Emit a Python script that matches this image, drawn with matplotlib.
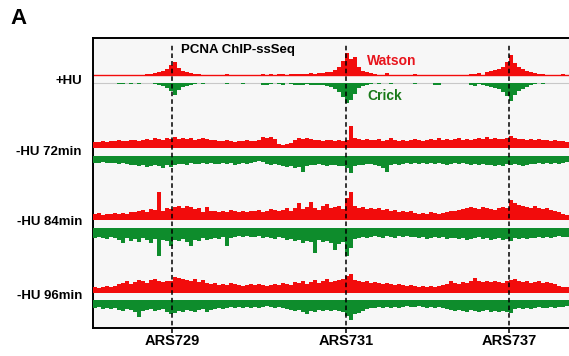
import numpy as np
import matplotlib
matplotlib.use("Agg")
import matplotlib.pyplot as plt

plt.rcParams['font.family'] = ['Liberation Sans', 'DejaVu Sans']

# genome bins (4 px each across the browser window)
nbins = 120
ars_pos = [19.75, 63.25, 104.0]
ars_names = ["ARS729", "ARS731", "ARS737"]
track_names = ["+HU", "-HU 72min", "-HU 84min", "-HU 96min"]

# +HU, sparse signal with peaks at the origins
hu_w = np.zeros(nbins)
hu_w_idx = [12, 13, 14, 15, 16, 17, 18, 19, 20, 21, 22, 23, 24, 25, 26, 33,
            42, 44, 46, 47, 48, 49, 50, 51, 52, 53, 54, 55, 56, 57, 58, 59, 60, 61, 62, 63, 64, 65, 66, 67, 68, 69, 70, 71, 73,
            80, 94, 95, 96, 97, 98, 99, 100, 101, 102, 103, 104, 105, 106, 107, 108, 109, 110, 111, 112, 113, 117]
hu_w_val = [0.5, 1, 1, 2, 3, 4, 6, 10, 13, 7, 4, 3, 2, 1.5, 1, 1,
            1, 1, 1, 1, 0.5, 1, 1, 1.5, 1, 1.5, 2, 1.5, 2, 2.5, 3, 3, 5, 8, 14, 22, 16, 18, 8, 4, 3, 2, 1, 0.5, 2,
            1, 1.5, 1, 2, 0.5, 3, 4, 5, 6, 8, 13, 20, 12, 8, 6, 4, 3, 2, 1.5, 1, 0.5, 1]
hu_w[hu_w_idx] = hu_w_val

hu_c = np.zeros(nbins)
hu_c_idx = [6, 7, 9, 11, 15, 16, 17, 18, 19, 20, 21, 22, 23, 24, 25, 27, 33, 37,
            42, 43, 44, 46, 47, 49, 50, 51, 52, 53, 54, 55, 56, 57, 58, 59, 60, 61, 62, 63, 64, 65, 66, 67, 68, 69, 71, 74,
            80, 85, 86, 94, 95, 96, 97, 98, 99, 100, 101, 102, 103, 104, 105, 106, 107, 108, 109, 110, 112]
hu_c_val = [1, 1, 1, 1, 1, 2, 3, 5, 8, 12, 7, 4, 3, 2, 1, 0.5, 1, 1,
            1.5, 1.5, 1, 1, 1.5, 1, 1.5, 2, 1.5, 1, 2, 1.5, 2, 2, 3, 4, 6, 9, 14, 20, 17, 11, 5, 3, 1.5, 1, 1, 0.5,
            1, 1.5, 1.5, 2, 2.5, 1, 2, 3, 4, 5, 6, 9, 13, 18, 12, 8, 6, 4, 2, 1, 1]
hu_c[hu_c_idx] = hu_c_val

w72 = [6, 6, 7, 6, 7, 7, 8, 7, 7, 8, 8, 7, 8, 9, 8, 10, 9, 8, 10, 9,
       11, 9, 10, 9, 10, 8, 9, 10, 9, 8, 8, 7, 7, 8, 7, 6, 7, 7, 8, 7,
       7, 8, 11, 10, 11, 9, 4, 3, 4, 5, 8, 10, 9, 10, 9, 8, 8, 7, 8, 8,
       7, 8, 7, 8, 22, 10, 9, 8, 9, 8, 8, 9, 7, 8, 10, 8, 7, 8, 7, 8,
       9, 8, 7, 8, 9, 8, 10, 8, 9, 8, 9, 10, 8, 9, 8, 9, 10, 9, 11, 9,
       10, 9, 9, 10, 12, 10, 9, 9, 8, 9, 8, 9, 8, 8, 7, 8, 7, 7, 6, 6]
c72 = [7, 7, 6, 7, 7, 7, 8, 7, 8, 9, 9, 10, 9, 11, 10, 9, 10, 12, 9, 11,
       9, 8, 8, 9, 7, 8, 8, 7, 8, 7, 8, 8, 7, 8, 7, 9, 8, 7, 8, 7,
       6, 5, 6, 8, 9, 8, 9, 10, 11, 10, 12, 11, 16, 10, 9, 9, 8, 9, 10, 9,
       9, 10, 10, 12, 17, 10, 9, 9, 8, 8, 9, 10, 12, 16, 9, 8, 9, 8, 7, 8,
       7, 8, 7, 8, 7, 8, 7, 8, 9, 8, 7, 8, 7, 8, 9, 8, 9, 8, 9, 9,
       10, 9, 10, 8, 9, 8, 9, 10, 9, 8, 8, 7, 8, 7, 8, 7, 8, 7, 6, 6]
w84 = [6, 7, 5, 6, 6, 7, 6, 7, 6, 8, 8, 9, 10, 8, 11, 10, 28, 9, 12, 11,
       13, 14, 12, 14, 13, 11, 12, 8, 13, 9, 9, 8, 9, 8, 10, 9, 8, 9, 8, 9,
       9, 10, 8, 9, 11, 10, 9, 10, 12, 9, 12, 17, 11, 13, 18, 12, 10, 14, 16, 12,
       13, 14, 11, 22, 28, 14, 12, 13, 11, 12, 11, 12, 10, 11, 9, 10, 8, 9, 8, 9,
       7, 6, 7, 6, 8, 7, 6, 7, 8, 9, 9, 10, 11, 12, 13, 12, 11, 13, 12, 11,
       10, 12, 13, 12, 20, 17, 15, 14, 13, 12, 14, 12, 11, 12, 10, 9, 8, 6, 5, 5]
c84 = [10, 9, 10, 11, 9, 10, 12, 15, 10, 13, 11, 14, 10, 12, 15, 11, 28, 12, 13, 18,
       12, 13, 11, 14, 18, 12, 13, 10, 12, 11, 10, 11, 9, 18, 10, 9, 8, 9, 8, 9,
       9, 8, 10, 9, 10, 11, 9, 10, 12, 11, 13, 12, 15, 13, 14, 25, 12, 14, 13, 15,
       22, 16, 14, 28, 20, 11, 10, 9, 10, 9, 8, 9, 10, 8, 9, 10, 8, 9, 8, 9,
       9, 10, 9, 11, 10, 9, 10, 9, 11, 10, 10, 11, 10, 12, 11, 10, 9, 11, 10, 12,
       11, 10, 12, 11, 13, 10, 11, 10, 11, 10, 10, 9, 10, 9, 10, 9, 8, 9, 9, 8]
w96 = [6, 5, 6, 7, 6, 7, 9, 10, 12, 9, 11, 13, 12, 10, 13, 14, 12, 11, 12, 12,
       16, 15, 14, 13, 12, 14, 11, 13, 10, 9, 10, 8, 9, 8, 10, 9, 8, 7, 8, 9,
       8, 9, 8, 7, 8, 9, 8, 10, 9, 8, 11, 10, 12, 9, 11, 13, 10, 12, 14, 11,
       12, 13, 14, 17, 19, 13, 12, 11, 12, 10, 11, 10, 9, 10, 9, 8, 9, 8, 7, 8,
       7, 6, 7, 6, 7, 6, 7, 8, 9, 12, 10, 9, 11, 10, 12, 15, 12, 11, 12, 11,
       12, 11, 10, 12, 13, 14, 12, 11, 12, 10, 11, 12, 10, 11, 10, 9, 7, 6, 6, 5]
c96 = [8, 7, 9, 8, 9, 8, 10, 11, 9, 10, 12, 17, 11, 10, 9, 11, 10, 9, 12, 14,
       13, 11, 12, 10, 11, 12, 10, 9, 12, 10, 9, 8, 9, 8, 7, 8, 7, 8, 7, 8,
       7, 8, 7, 6, 7, 8, 7, 8, 9, 10, 11, 10, 12, 14, 11, 12, 10, 11, 10, 11,
       10, 11, 12, 16, 20, 14, 13, 11, 9, 8, 8, 7, 8, 7, 8, 7, 8, 7, 6, 7,
       7, 6, 7, 8, 7, 8, 7, 8, 9, 10, 11, 10, 11, 12, 10, 11, 12, 11, 10, 12,
       11, 12, 11, 12, 13, 9, 8, 9, 8, 9, 8, 7, 8, 8, 7, 8, 7, 7, 6, 6]

watson = [hu_w, np.array(w72), np.array(w84), np.array(w96)]
crick = [hu_c, np.array(c72), np.array(c84), np.array(c96)]

# layout (y in pixel-like units from the bottom of the figure)
W, H = 569, 356
w_base = [H - 75, H - 148, H - 220, H - 293]
c_base = [H - 83, H - 156, H - 228, H - 300]
label_y = [H - 81, H - 152, H - 222, H - 296]
red = '#f20c0c'
green = '#0e8c2c'

fig = plt.figure(figsize=(W / 100, H / 100), dpi=100)
box_l, box_r, box_t, box_b = 93, 573, 38, 328
ax = fig.add_axes([box_l / W, 1 - box_b / H, (box_r - box_l) / W, (box_b - box_t) / H])
ax.set_facecolor('#f7f7f7')
ax.set_xlim(0, nbins)
ax.set_ylim(H - box_b, H - box_t)
ax.set_xticks([])
ax.set_yticks([])
for s in ax.spines.values():
    s.set_linewidth(1.4)
    s.set_color('black')

edges = np.arange(nbins + 1)
for i in range(4):
    wb, cb = w_base[i], c_base[i]
    if i == 0:
        ax.axhline(wb, color=red, lw=1.0, zorder=2)
        ax.axhline(cb, color='#c8c8c8', lw=0.8, zorder=1)
    ax.stairs(wb + watson[i], edges, baseline=wb, fill=True, color=red, lw=0, zorder=3)
    ax.stairs(cb - crick[i], edges, baseline=cb, fill=True, color=green, lw=0, zorder=3)
    fig.text(82 / W, label_y[i] / H, track_names[i], ha='right', va='center',
             fontsize=9.5, fontweight='bold')

# origin markers
for xp, nm in zip(ars_pos, ars_names):
    ax.plot([xp, xp], [H - 333, H - 43], ls=(0, (3, 2)), color='black', lw=1.1,
            clip_on=False, zorder=5)
    ax.text(xp, H - 341, nm, ha='center', va='center', fontsize=10.5,
            fontweight='bold')

ax.text(36.25, H - 50, "PCNA ChIP-ssSeq", ha='center', va='center', fontsize=9.5,
        fontweight='bold')
ax.text(74.75, H - 61, "Watson", ha='center', va='center', fontsize=10,
        fontweight='bold', color='#e8141c')
ax.text(73, H - 96, "Crick", ha='center', va='center', fontsize=10,
        fontweight='bold', color='#1a7a1a')
fig.text(10 / W, 1 - 18 / H, "A", ha='left', va='center', fontsize=16,
         fontweight='bold')

fig.savefig("out.png", dpi=100)
